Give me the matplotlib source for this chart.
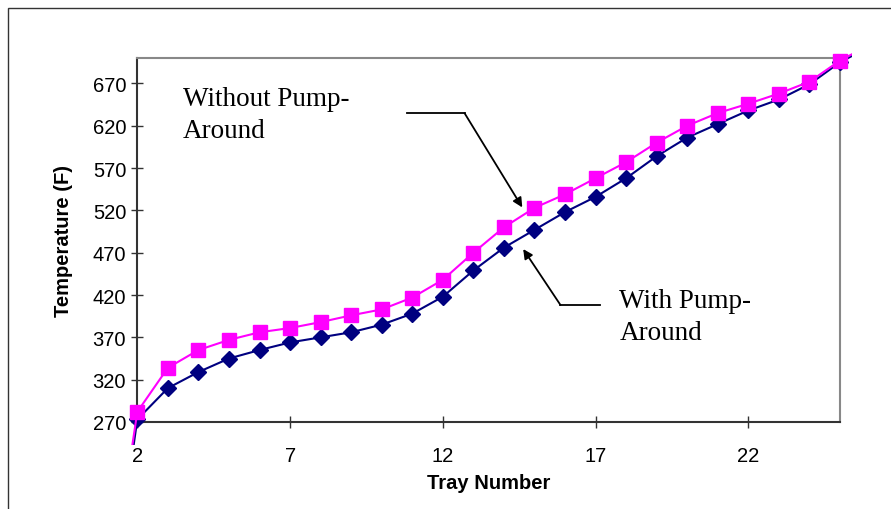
import matplotlib
matplotlib.use("Agg")
import matplotlib.pyplot as plt
from matplotlib.patches import Rectangle

# tray numbers (1 and 26 sit just outside the axis range, only line stubs show)
trays = list(range(1, 27))
with_pa = [20, 273, 310, 329, 345, 355, 364, 370, 376, 385, 398, 418, 449, 476, 497,
           518, 536, 558, 584, 606, 622, 638, 651, 669, 695, 714]
without_pa = [40, 282, 334, 355, 367, 376, 381, 388, 396, 403, 417, 438, 470, 500, 523,
              539, 558, 577, 600, 620, 635, 646, 658, 672, 697, 716]
x_ticks = [2, 7, 12, 17, 22]
y_ticks = [270, 320, 370, 420, 470, 520, 570, 620, 670]

fig = plt.figure(figsize=(8.91, 5.10), dpi=100)
ax = fig.add_axes([0.1541, 0.1706, 0.7887, 0.7137])

# outer chart border (cut off at right/bottom like the reference)
fig.patches.append(Rectangle((7.5 / 891, -0.1), 1.2, 1.1 - 9.3 / 510,
                             transform=fig.transFigure, fill=False,
                             edgecolor="#333333", linewidth=1.0))

clip = Rectangle((-0.02, -0.062), 1.037, 1.1, transform=ax.transAxes,
                 facecolor="none", edgecolor="none")
ax.add_patch(clip)

l1, = ax.plot(trays, with_pa, color="#000080", marker="D", markersize=8,
              linewidth=1.5, zorder=3)
l2, = ax.plot(trays, without_pa, color="#FF00FF", marker="s", markersize=10,
              linewidth=1.5, zorder=4)
for ln in (l1, l2):
    ln.set_clip_path(clip)

ax.set_xlim(2, 25)
ax.set_ylim(270, 700)
ax.set_xticks(x_ticks)
ax.set_yticks(y_ticks)

for side in ("top", "right"):
    ax.spines[side].set_color("#888888")
    ax.spines[side].set_linewidth(1.5)
for side in ("left", "bottom"):
    ax.spines[side].set_color("#333333")
    ax.spines[side].set_linewidth(1.5)
ax.spines["left"].set_zorder(2)

ax.tick_params(direction="inout", length=8, width=1, color="#333333",
               labelsize=14.5)
ax.tick_params(axis="x", pad=13)
ax.tick_params(axis="y", pad=4)
for lab in ax.get_xticklabels() + ax.get_yticklabels():
    lab.set_family("Liberation Sans")

ax.set_xlabel("Tray Number", fontsize=14.5, fontweight="bold",
              family="Liberation Sans", labelpad=6)
ax.set_ylabel("Temperature (F)", fontsize=14.5, fontweight="bold",
              family="Liberation Sans", labelpad=14)

serif = "Liberation Serif"
ax.text(3.5, 667, "Without Pump-\nAround", fontsize=19.5, family=serif,
        va="top", ha="left", linespacing=1.35)
ax.text(17.78, 428, "With Pump-\nAround", fontsize=19.5, family=serif,
        va="top", ha="left", linespacing=1.35)

# leader lines with arrowheads
ax.plot([10.84, 12.71], [634.9, 634.9], color="black", linewidth=1.3)
ax.annotate("", xy=(14.6, 523.5), xytext=(12.71, 634.9),
            arrowprops=dict(arrowstyle="-|>", color="black", lw=1.3,
                            mutation_scale=14, shrinkA=0, shrinkB=0))
ax.plot([15.85, 17.13], [408.2, 408.2], color="black", linewidth=1.3)
ax.annotate("", xy=(14.63, 474.3), xytext=(15.85, 408.2),
            arrowprops=dict(arrowstyle="-|>", color="black", lw=1.3,
                            mutation_scale=14, shrinkA=0, shrinkB=0))

fig.savefig("out.png", dpi=100)
